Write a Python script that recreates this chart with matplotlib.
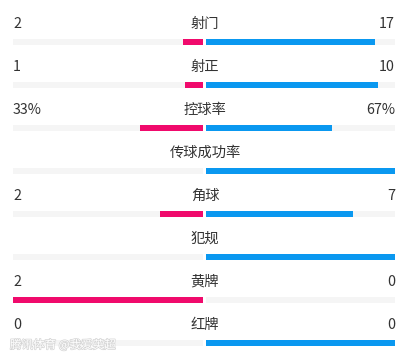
import matplotlib.pyplot as plt
import matplotlib.patheffects as pe

plt.rcParams['font.family'] = ['Noto Sans CJK SC', 'DejaVu Sans']

# match stats: home (left) vs away (right)
labels = ['射门', '射正', '控球率', '传球成功率', '角球', '犯规', '黄牌', '红牌']
home = [2, 1, 33, None, 2, None, 2, 0]
away = [17, 10, 67, None, 7, None, 0, 0]
home_text = ['2', '1', '33%', '', '2', '', '2', '0']
away_text = ['17', '10', '67%', '', '7', '', '0', '0']

PINK = '#f00a6c'
BLUE = '#0a98f0'
TRACK = '#f5f5f5'

W, H = 407, 360
fig = plt.figure(figsize=(W / 100, H / 100), dpi=100)
ax = fig.add_axes([13 / W, 0, (395 - 13) / W, 1])
ax.set_xlim(-1, 1)
step = 43.0
ax.set_ylim((H - 42) / step, -42 / step)
ax.axis('off')

gap = 1.5 / 191
bh = 6 / step
for i, lab in enumerate(labels):
    h = home[i] or 0
    a = away[i] or 0
    tot = h + a
    if tot:
        lf, rf = h / tot, a / tot
    else:
        lf, rf = 0, 1  # site shows a full away bar when nothing recorded
    ax.barh(i, 1 - gap, left=-1, height=bh, color=TRACK)
    ax.barh(i, 1 - gap, left=gap, height=bh, color=TRACK)
    if lf:
        ax.barh(i, -lf * (1 - gap), left=-gap, height=bh, color=PINK)
    if rf:
        ax.barh(i, rf * (1 - gap), left=gap, height=bh, color=BLUE)
    ty = i - 18 / step
    ax.text(0.005, ty, lab, ha='center', va='center', fontsize=10.3, color='#333333')
    ax.text(-1, ty, home_text[i], ha='left', va='center', fontsize=10.3, color='#333333')
    ax.text(1, ty, away_text[i], ha='right', va='center', fontsize=10.3, color='#333333')

fig.text(10 / W, 1 - 345 / H, '腾讯体育 @我爱英超', ha='left', va='center',
         fontsize=8.3, color='white',
         path_effects=[pe.withStroke(linewidth=1.0, foreground='#d4d4d4')])

fig.savefig('out.png', dpi=100)
